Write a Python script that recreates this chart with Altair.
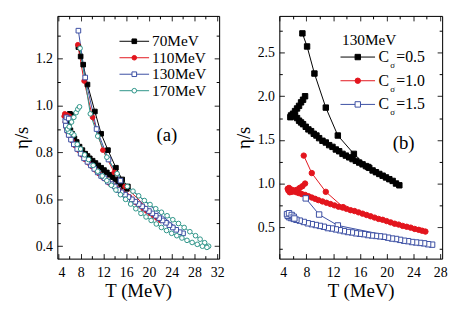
import altair as alt
import pandas as pd

FONT = "Liberation Serif"

# ---------------- Panel (a) data ----------------
a_names = ["70MeV", "110MeV", "130MeV", "170MeV"]
a_colors = ["#000000", "#e3151d", "#3b4ea3", "#2e9488"]
a_fills = ["#000000", "#e3151d", "#ffffff", "#ffffff"]
a_shapes = ["square", "circle", "square", "circle"]

a70_T = [7.6, 8.0, 8.45, 9.2, 10.5, 11.6, 12.8, 14.2, 15.3, 16.3,
         16.1, 15.6, 15.1, 14.6, 14.1, 13.6, 13.1, 12.6, 12.1, 11.6, 11.1, 10.6, 10.1, 9.6,
         9.2, 8.8, 8.3, 7.8, 7.3, 6.9, 6.5, 6.2, 5.9, 5.7, 5.8, 6.1, 6.4]
a70_v = [1.25, 1.21, 1.175, 1.09, 0.975, 0.88, 0.81, 0.735, 0.685, 0.655,
         0.645, 0.655, 0.665, 0.675, 0.685, 0.695, 0.705, 0.715, 0.725, 0.735, 0.745, 0.755, 0.765, 0.775,
         0.785, 0.795, 0.81, 0.825, 0.845, 0.86, 0.88, 0.895, 0.915, 0.935, 0.955, 0.965, 0.96]

a110_T = [7.5, 8.6, 10.1, 11.9, 13.9, 15.8,
          22.0, 21.4, 20.8, 20.2, 19.6, 19.0, 18.4, 17.8, 17.2, 16.6, 16.0, 15.4, 14.8, 14.2,
          13.6, 13.0, 12.4, 11.8, 11.2, 10.6, 10.0, 9.4, 8.8, 8.2, 7.6, 7.0, 6.5, 6.1, 5.8,
          5.5, 5.3, 5.1, 5.2, 5.6, 6.0]
a110_v = [1.26, 1.105, 0.95, 0.81, 0.715, 0.655,
          0.51, 0.52, 0.53, 0.54, 0.55, 0.56, 0.575, 0.585, 0.595, 0.61, 0.62, 0.63, 0.64, 0.65,
          0.66, 0.67, 0.685, 0.695, 0.71, 0.725, 0.74, 0.755, 0.77, 0.79, 0.81, 0.83, 0.85, 0.87, 0.885,
          0.905, 0.93, 0.955, 0.965, 0.96, 0.955]

a130_T = [7.6, 8.8, 10.8, 12.9, 15.0,
          26.0, 25.4, 24.8, 24.2, 23.6, 23.0, 22.4, 21.8, 21.2, 20.6, 20.0, 19.4, 18.8, 18.2,
          17.6, 17.0, 16.4, 15.8, 15.2, 14.6, 14.0, 13.4, 12.8, 12.2, 11.6, 11.0, 10.4, 9.8,
          9.2, 8.6, 8.0, 7.4, 6.8, 6.3, 5.9, 5.6, 5.4, 5.3, 5.5, 5.9]
a130_v = [1.32, 1.12, 0.90, 0.77, 0.68,
          0.455, 0.46, 0.47, 0.48, 0.49, 0.50, 0.51, 0.52, 0.53, 0.54, 0.55, 0.56, 0.57, 0.58,
          0.59, 0.60, 0.61, 0.62, 0.63, 0.64, 0.655, 0.665, 0.675, 0.69, 0.70, 0.715, 0.73, 0.745,
          0.76, 0.775, 0.795, 0.815, 0.835, 0.855, 0.875, 0.895, 0.915, 0.935, 0.95, 0.945]

a170_T = [7.9, 9.7, 11.0, 12.6, 14.4, 16.2,
          17.2, 18.2, 19.2, 20.2, 21.2, 22.2, 23.2, 24.2, 25.2, 26.2, 27.2, 28.2, 29.0, 29.8, 30.5,
          30.2, 29.4, 28.5, 27.6, 26.7, 25.8, 24.9, 24.0, 23.1, 22.2, 21.3, 20.4, 19.5, 18.6,
          17.7, 16.8, 15.9, 15.0, 14.2, 13.4, 12.6, 11.8, 11.0, 10.2, 9.4, 8.7, 8.0, 7.4, 6.8,
          6.3, 5.9, 5.7, 6.0, 6.4, 6.8, 7.2, 7.5, 7.8]
a170_v = [1.245, 0.965, 0.87, 0.78, 0.71, 0.655,
          0.635, 0.615, 0.595, 0.578, 0.56, 0.545, 0.53, 0.513, 0.497, 0.48, 0.462, 0.445, 0.43, 0.415, 0.40,
          0.395, 0.40, 0.408, 0.416, 0.425, 0.435, 0.445, 0.455, 0.467, 0.48, 0.495, 0.51, 0.525, 0.54,
          0.56, 0.58, 0.60, 0.62, 0.64, 0.66, 0.68, 0.70, 0.72, 0.745, 0.77, 0.79, 0.815, 0.835, 0.875,
          0.885, 0.89, 0.90, 0.91, 0.93, 0.95, 0.97, 0.985, 0.995]

# ---------------- Panel (b) data ----------------
b_title = "130MeV"
b_names = ["0.5", "1.0", "1.5"]
b_colors = ["#000000", "#e3151d", "#3b4ea3"]
b_fills = ["#000000", "#e3151d", "#ffffff"]
b_shapes = ["square", "circle", "square"]

b05_T = [7.4, 8.1, 9.2, 10.9, 12.7, 15.1, 17.2,
         21.9, 21.4, 20.9, 20.4, 19.9, 19.4, 18.9, 18.4, 17.9, 17.4, 16.9, 16.4, 15.9, 15.4,
         14.9, 14.4, 13.9, 13.4, 12.9, 12.4, 11.9, 11.4, 10.9, 10.4, 9.9, 9.5, 9.1, 8.7, 8.3,
         7.9, 7.5, 7.2, 6.9, 6.6, 6.3, 6.0, 5.8, 5.6, 5.7, 6.0, 6.3, 6.6, 6.9, 7.2, 7.5, 7.8]
b05_v = [2.72, 2.57, 2.26, 1.87, 1.55, 1.34, 1.19,
         0.98, 1.00, 1.03, 1.05, 1.07, 1.09, 1.11, 1.13, 1.15, 1.18, 1.20, 1.22, 1.24, 1.26,
         1.28, 1.30, 1.32, 1.34, 1.37, 1.39, 1.42, 1.44, 1.47, 1.49, 1.52, 1.55, 1.57, 1.60, 1.62,
         1.65, 1.68, 1.70, 1.72, 1.75, 1.77, 1.78, 1.77, 1.76, 1.78, 1.80, 1.83, 1.86, 1.89, 1.93, 1.96, 2.00]

b10_T = [7.6, 8.8, 10.9, 13.5,
         25.8, 25.3, 24.8, 24.2, 23.6, 23.0, 22.4, 21.8, 21.2, 20.6, 20.0, 19.4, 18.8, 18.2,
         17.6, 17.0, 16.4, 15.8, 15.2, 14.6, 14.0, 13.4, 12.8, 12.2, 11.6, 11.0, 10.4, 9.8,
         9.3, 8.8, 8.3, 7.8, 7.3, 6.9, 6.5, 6.1, 5.8, 5.5, 5.3, 5.2, 5.4, 5.8, 6.2, 6.6,
         7.0, 7.4, 7.8]
b10_v = [1.32, 1.12, 0.905, 0.73,
         0.45, 0.46, 0.47, 0.48, 0.495, 0.505, 0.515, 0.53, 0.54, 0.555, 0.57, 0.585, 0.595, 0.61,
         0.625, 0.64, 0.655, 0.67, 0.685, 0.695, 0.71, 0.725, 0.735, 0.75, 0.765, 0.78, 0.795, 0.81,
         0.825, 0.84, 0.855, 0.87, 0.88, 0.89, 0.90, 0.91, 0.905, 0.90, 0.92, 0.94, 0.95, 0.93, 0.92, 0.93,
         0.95, 0.97, 1.00]

b15_T = [7.9, 9.9, 12.7,
         26.8, 26.2, 25.6, 25.0, 24.4, 23.8, 23.2, 22.6, 22.0, 21.4, 20.8, 20.2, 19.6, 19.0,
         18.4, 17.8, 17.2, 16.6, 16.0, 15.4, 14.8, 14.2, 13.6, 13.0, 12.4, 11.8, 11.2, 10.6,
         10.0, 9.4, 8.8, 8.2, 7.6, 7.0, 6.5, 6.1, 5.7, 5.4, 5.2, 5.1, 5.4, 5.8, 6.1, 6.2]
b15_v = [0.83, 0.645, 0.52,
         0.30, 0.305, 0.315, 0.32, 0.325, 0.33, 0.34, 0.345, 0.355, 0.365, 0.37, 0.38, 0.39, 0.395,
         0.40, 0.405, 0.41, 0.42, 0.425, 0.43, 0.44, 0.445, 0.455, 0.465, 0.475, 0.485, 0.49, 0.505,
         0.515, 0.525, 0.535, 0.545, 0.56, 0.575, 0.585, 0.595, 0.605, 0.615, 0.63, 0.65, 0.66, 0.64, 0.62, 0.60]

# axis tick lists
a_xticks = list(range(4, 33, 2))
a_yticks = [0.4, 0.5, 0.6, 0.7, 0.8, 0.9, 1.0, 1.1, 1.2, 1.3]
b_xticks = list(range(4, 29, 2))
b_yticks = [0.25, 0.5, 0.75, 1.0, 1.25, 1.5, 1.75, 2.0, 2.25, 2.5, 2.75]


def frame(names, Ts, vs):
    rows = []
    for name, T, v in zip(names, Ts, vs):
        for i, (t, y) in enumerate(zip(T, v)):
            rows.append({"series": name, "T": t, "v": y, "i": i})
    return pd.DataFrame(rows)


def mk_axis(orient, values, minor_test, fmt, labels, title=None):
    vertical = orient in ("left", "right")
    kw = dict(
        orient=orient, values=values, format=fmt, labels=labels,
        tickSize={"expr": "-5"}, tickColor="black", tickWidth=1,
        tickDash={"condition": {"test": minor_test, "value": [3, 30]}, "value": [1, 0]},
        domainColor="black", domainWidth=1, grid=False,
        labelFont=FONT, labelFontSize=14, labelColor="black",
        labelPadding=10 if vertical else 12,
        labelExpr="(" + minor_test + ") ? '' : datum.label",
        titleFont=FONT, titleFontSize=19, titleFontWeight="normal", titleColor="black",
    )
    if title is not None:
        kw["title"] = title
        kw["titlePadding"] = 4 if vertical else 2
    else:
        kw["title"] = None
    return alt.Axis(**kw)


def panel(df, names, colors, fills, shapes, xdom, ydom, xt, yt, xminor, yminor, yfmt,
          w, h, psize):
    xs = alt.Scale(domain=xdom, nice=False, zero=False)
    ys = alt.Scale(domain=ydom, nice=False, zero=False)
    cs = alt.Scale(domain=names, range=colors)
    fs = alt.Scale(domain=names, range=fills)
    ss = alt.Scale(domain=names, range=shapes)
    base = alt.Chart(df)
    lines = base.mark_line(strokeWidth=1, clip=True).encode(
        x=alt.X("T:Q", scale=xs, axis=mk_axis("bottom", xt, xminor, "d", True, "T (MeV)")),
        y=alt.Y("v:Q", scale=ys, axis=mk_axis("left", yt, yminor, ".1f", True, "η/s")),
        stroke=alt.Stroke("series:N", scale=cs, legend=None),
        detail="series:N",
        order="i:Q",
    )
    pts = base.mark_point(size=psize, strokeWidth=1, opacity=1, clip=True).encode(
        x=alt.X("T:Q", scale=xs, axis=None),
        y=alt.Y("v:Q", scale=ys, axis=None),
        stroke=alt.Stroke("series:N", scale=cs, legend=None),
        fill=alt.Fill("series:N", scale=fs, legend=None),
        shape=alt.Shape("series:N", scale=ss, legend=None),
    )
    mirror = base.mark_point(opacity=0).encode(
        x=alt.X("T:Q", scale=xs, axis=mk_axis("top", xt, xminor, "d", False)),
        y=alt.Y("v:Q", scale=ys, axis=mk_axis("right", yt, yminor, ".1f", False)),
    )
    return [lines, pts, mirror]


def txt(s, x, y, size, align="left"):
    return alt.Chart(pd.DataFrame({"t": [s]})).mark_text(
        font=FONT, fontSize=size, color="black", align=align, baseline="middle"
    ).encode(x=alt.value(x), y=alt.value(y), text="t:N")


def legend_row(name_text, color, fill, shape, x0, x1, xm, y, psize):
    one = pd.DataFrame({"t": [name_text]})
    rule = alt.Chart(one).mark_rule(color=color, strokeWidth=1).encode(
        x=alt.value(x0), x2=alt.value(x1), y=alt.value(y))
    pt = alt.Chart(one).mark_point(shape=shape, size=psize, stroke=color, fill=fill,
                                   strokeWidth=1, opacity=1).encode(
        x=alt.value(xm), y=alt.value(y))
    return [rule, pt]


# ----- panel (a)
dfa = frame(a_names, [a70_T, a110_T, a130_T, a170_T], [a70_v, a110_v, a130_v, a170_v])
la = panel(dfa, a_names, a_colors, a_fills, a_shapes, [3.9, 32.35], [0.347, 1.383],
           a_xticks, a_yticks, "datum.value % 4 != 0", "round(datum.value*10) % 2 != 0", ".1f",
           164, 246, 22)
for k, (n, c, f, s) in enumerate(zip(a_names, a_colors, a_fills, a_shapes)):
    y = 25.7 + 16.7 * k
    la += legend_row(n, c, f, s, 63, 93, 78, y, 22)
    la.append(txt(n, 96, y, 15.5))
la.append(txt("(a)", 111, 121, 19, "center"))

chart_a = alt.layer(*la).resolve_axis(x="independent", y="independent").properties(
    width=164, height=246)

# ----- panel (b)
dfb = frame(b_names, [b05_T, b10_T, b15_T], [b05_v, b10_v, b15_v])
lb = panel(dfb, b_names, b_colors, b_fills, b_shapes, [3.95, 28.3], [0.14, 2.92],
           b_xticks, b_yticks, "datum.value % 4 != 0",
           "abs(datum.value*2 - round(datum.value*2)) > 0.01", ".1f",
           165, 246, 30)
lb.append(txt(b_title, 63.5, 24, 15.5))
for k, (n, c, f, s) in enumerate(zip(b_names, b_colors, b_fills, b_shapes)):
    y = 41.7 + 24 * k
    lb += legend_row(n, c, f, s, 62, 97, 79.5, y, 30)
    lb.append(txt("C", 100.5, y, 16))
    lb.append(txt("σ", 112.5, y + 8, 9))
    lb.append(txt("=" + n, 118.5, y, 16))
lb.append(txt("(b)", 126, 129, 19, "center"))

chart_b = alt.layer(*lb).resolve_axis(x="independent", y="independent").properties(
    width=165, height=246)

chart = alt.hconcat(chart_a, chart_b, spacing=9).properties(
    padding={"left": 4, "top": 5, "right": 4, "bottom": 4}
).configure_view(stroke="black", strokeWidth=1).configure_axis(
    titleFontWeight="normal"
).configure(background="white")

chart.save("out.html", embed_options={"renderer": "svg", "actions": False})
